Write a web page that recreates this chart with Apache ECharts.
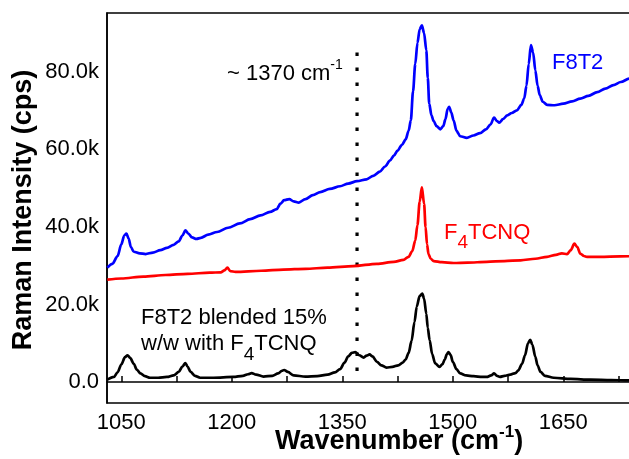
<!DOCTYPE html>
<html>
<head>
<meta charset="utf-8">
<script src="https://cdn.jsdelivr.net/npm/echarts@6/dist/echarts.min.js"></script>
<style>
  html, body { margin: 0; padding: 0; background: #fff; }
  #chart { width: 629px; height: 459px; }
</style>
</head>
<body>
<div id="chart"></div>
<script>
// Raman spectra: F8T2, F4TCNQ and the F8T2 / F4TCNQ blend (intensity in cps)
const f8t2Wn = [1031,1038,1045,1050,1054,1057,1060,1063,1067,1075,1083,1093,1103,1112,1121,1128,1133,1137,1141,1146,1152,1158,1168,1180,1195,1211,1225,1239,1252,1261,1266,1271,1278,1284,1291,1300,1310,1320,1333,1347,1358,1370,1383,1392,1401,1408,1415,1420,1425,1431,1436,1440,1443,1446,1449,1452,1455,1458,1461,1464,1466,1468,1471,1474,1478,1483,1487,1490,1493,1495,1498,1501,1505,1510,1519,1528,1537,1545,1551,1556,1560,1563,1568,1574,1580,1587,1593,1597,1600,1603,1606,1609,1612,1615,1618,1622,1628,1638,1650,1662,1673,1684,1696,1707,1718,1728,1740,1750];
const f8t2Cps = [29500,30500,32500,35500,37800,38300,37000,34800,33600,33200,33000,33400,34000,34600,35400,36300,37800,39100,38300,37300,36900,37200,38000,38700,39800,40900,42000,43000,43900,44600,46000,46900,47200,46600,46300,47200,48200,49000,49800,50500,51200,51800,52300,53200,54300,55600,57200,58400,59700,61200,62600,64800,67500,75000,82000,87500,91000,92000,90000,85600,78500,71800,68800,67300,66000,65200,66000,67800,70500,71000,69500,67500,64800,63400,63000,63600,64200,65200,66400,68200,67300,66900,67800,68800,69400,70100,71500,73200,76500,82000,86900,85000,80400,76500,74000,72300,71500,71400,71800,72400,73100,73800,74800,75700,76600,77400,78300,79000];

const f4tcnqWn = [1031,1050,1080,1110,1140,1170,1185,1190,1194,1198,1205,1240,1270,1300,1330,1365,1397,1420,1433,1440,1445,1449,1452,1455,1458,1461,1463,1465,1467,1470,1474,1485,1501,1520,1546,1570,1592,1612,1628,1640,1648,1655,1660,1665,1669,1673,1678,1682,1700,1727,1750];
const f4tcnqCps = [26400,26700,27200,27600,27900,28200,28300,28800,29500,28600,28400,28700,29000,29200,29500,29900,30500,31000,31500,32300,33800,36500,40500,46500,50200,46000,40000,35500,33000,31800,31200,30900,30700,30800,31000,31200,31400,31800,32300,32800,33200,33000,34000,35700,34800,33100,32500,32300,32300,32400,32500];

const blendWn = [1031,1040,1045,1050,1055,1058.5,1062,1067,1071,1076,1082,1089,1100,1112,1121,1128,1133,1137,1140,1144,1150,1157,1175,1202,1215,1222,1227,1233,1243,1255,1263,1268,1271,1276,1284,1300,1316,1330,1340,1347,1353,1358,1363,1367.6,1373,1379,1383,1387,1391,1397,1403,1410,1418,1426,1432,1436,1440,1444,1448,1451,1455,1458.6,1461,1464,1466,1468.5,1472,1476,1482,1486,1489,1492,1494,1497,1500,1505,1510,1518,1528,1540,1546,1552,1556,1560,1564,1570,1578,1585,1589,1594,1598,1602,1605,1608,1612,1615,1619,1625,1637,1660,1687,1715,1739,1750];
const blendCps = [600,1300,2500,4500,6400,6900,6200,4700,3200,2200,1500,1100,1100,1300,1700,2600,4000,4900,4000,2600,1600,1100,1100,1300,1600,2000,2300,1900,1400,1600,2200,2900,3100,2600,1700,1400,1500,1900,2500,3300,5000,6600,7500,7700,6900,6300,6800,7100,6600,5200,4300,3700,3900,4300,5000,5800,7500,10600,15500,19400,22200,22800,21500,17600,14000,10800,7200,4800,3900,4600,5800,7200,7700,7000,5200,3300,2200,1700,1500,1300,1300,1700,2200,1600,1300,1600,1900,2300,3000,4700,6900,10000,10900,9600,6500,4300,2600,1600,1100,800,600,500,400,400];

// Dotted guide at ~1370 cm-1
const guideWn = [1370, 1370];
const guideCps = [85000, 1000];

// Tick positions and labels
const xLabelTicks = [1050, 1200, 1350, 1500, 1650];
const xAllTicks = [1050, 1125, 1200, 1275, 1350, 1425, 1500, 1575, 1650, 1725];
const yLabelTicks = [0, 20000, 40000, 60000, 80000];

const FONT = '"Liberation Sans", Arial, Helvetica, sans-serif';
const zip = (xs, ys) => xs.map((x, i) => [x, ys[i]]);

const measureCtx = document.createElement('canvas').getContext('2d');
function textWidth(txt, font) {
  measureCtx.font = font;
  return measureCtx.measureText(txt).width;
}

// Lay out a run of text pieces (for sub/superscripts) starting at x0, centred on yc
function textRun(parts, x0, yc, color) {
  let x = x0;
  const out = [];
  parts.forEach(p => {
    const font = (p.bold ? 'bold ' : '') + p.size + 'px ' + FONT;
    out.push({
      type: 'text', silent: true, x: x, y: yc + (p.dy || 0),
      style: { text: p.text, font: font, fill: color, align: 'left', verticalAlign: 'middle' }
    });
    x += textWidth(p.text, font);
  });
  return out;
}

const graphics = [].concat(
  textRun([{ text: '~ 1370 cm', size: 22 }, { text: '-1', size: 14, dy: -8 }], 227, 73.5, '#000'),
  textRun([{ text: 'F8T2', size: 22 }], 552, 62.5, '#0000ff'),
  textRun([{ text: 'F', size: 22 }, { text: '4', size: 19, dy: 10.5 }, { text: 'TCNQ', size: 22 }], 444, 232.5, '#ff0000'),
  textRun([{ text: 'F8T2 blended 15%', size: 22 }], 141, 318, '#000'),
  textRun([{ text: 'w/w with F', size: 22 }, { text: '4', size: 19, dy: 10.5 }, { text: 'TCNQ', size: 22 }], 141, 344, '#000'),
  textRun([{ text: 'Wavenumber (cm', size: 27, bold: true }, { text: '-1', size: 17, bold: true, dy: -9 }, { text: ')', size: 27, bold: true }], 275, 441.5, '#000'),
  [{
    type: 'text', silent: true, x: 24, y: 210, rotation: Math.PI / 2,
    style: { text: 'Raman Intensity (cps)', font: 'bold 27px ' + FONT, fill: '#000', align: 'center', verticalAlign: 'middle' }
  }]
);

const lineSeries = (name, xs, ys, color) => ({
  name: name, type: 'line', data: zip(xs, ys), showSymbol: false,
  smooth: 0.3, smoothMonotone: 'x',
  lineStyle: { color: color, width: 2.7 }, z: 3, animation: false
});

const chart = echarts.init(document.getElementById('chart'), null, { renderer: 'canvas' });
chart.setOption({
  animation: false,
  backgroundColor: '#fff',
  grid: {
    left: 107, right: -8, top: 13, bottom: 56,
    show: true, borderColor: '#000', borderWidth: 1.5, backgroundColor: 'transparent',
    outerBoundsMode: 'none'
  },
  xAxis: {
    type: 'value', min: 1030.6, max: 1750,
    axisLine: { show: true, lineStyle: { color: '#000', width: 1.5 } },
    axisTick: { show: true, inside: true, length: 6, customValues: xAllTicks, lineStyle: { color: '#000', width: 1.5 } },
    axisLabel: {
      customValues: xLabelTicks, fontSize: 22, color: '#000', fontFamily: FONT, margin: 9,
      formatter: v => String(v)
    },
    splitLine: { show: false }
  },
  yAxis: {
    type: 'value', min: -5420, max: 95200,
    axisLine: { show: true, lineStyle: { color: '#000', width: 1.5 } },
    axisTick: { show: false },
    axisLabel: {
      customValues: yLabelTicks, fontSize: 22, color: '#000', fontFamily: FONT, margin: 8,
      formatter: v => v === 0 ? '0.0' : (v / 1000).toFixed(1) + 'k'
    },
    splitLine: { show: false }
  },
  series: [
    lineSeries('F8T2', f8t2Wn, f8t2Cps, '#0000ff'),
    lineSeries('F4TCNQ', f4tcnqWn, f4tcnqCps, '#ff0000'),
    lineSeries('Blend', blendWn, blendCps, '#000000'),
    {
      name: 'guide', type: 'line', data: zip(guideWn, guideCps), showSymbol: false,
      lineStyle: { color: '#000', width: 3.2, type: [3.5, 11.5], cap: 'butt' }, z: 2, animation: false
    }
  ],
  graphic: graphics
});
</script>
</body>
</html>
